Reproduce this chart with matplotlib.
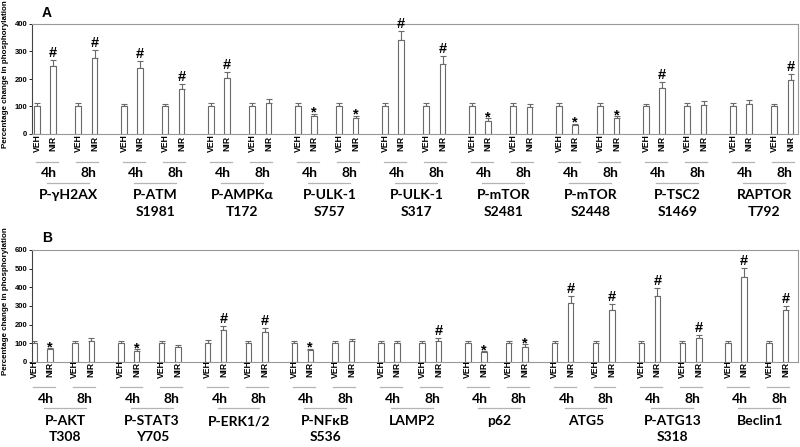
import matplotlib
matplotlib.use('Agg')
import matplotlib.pyplot as plt
import numpy as np
from matplotlib.transforms import blended_transform_factory
from matplotlib.lines import Line2D

# =============================================================================
# Data (percentage change in phosphorylation, VEH4 / NIR4 / VEH8 / NIR8)

names_a = ['P-\u03b3H2AX', 'P-ATM\nS1981', 'P-AMPK\u03b1\nT172', 'P-ULK-1\nS757',
           'P-ULK-1\nS317', 'P-mTOR\nS2481', 'P-mTOR\nS2448', 'P-TSC2\nS1469',
           'RAPTOR\nT792']
veh4_a = [100, 100, 100, 100, 100, 100, 100, 100, 100]
nir4_a = [246, 239, 204, 64, 340, 48, 31, 167, 108]
veh8_a = [100, 100, 100, 100, 100, 100, 100, 100, 100]
nir8_a = [277, 165, 112, 57, 254, 99, 58, 104, 195]
err_veh4_a = [12, 8, 12, 14, 14, 12, 14, 10, 12]
err_nir4_a = [24, 25, 22, 9, 36, 9, 7, 21, 17]
err_veh8_a = [12, 10, 12, 12, 12, 12, 12, 12, 10]
err_nir8_a = [29, 18, 14, 10, 28, 11, 7, 15, 22]
sig4_a = ['#', '#', '#', '*', '#', '*', '*', '#', '']
sig8_a = ['#', '#', '', '*', '#', '', '*', '', '#']

names_b = ['P-AKT\nT308', 'P-STAT3\nY705', 'P-ERK1/2', 'P-NF\u03baB\nS536',
           'LAMP2', 'p62', 'ATG5', 'P-ATG13\nS318', 'Beclin1']
veh4_b = [100, 100, 100, 100, 100, 100, 100, 100, 100]
nir4_b = [67, 58, 170, 63, 102, 52, 315, 353, 456]
veh8_b = [100, 100, 100, 100, 101, 100, 100, 100, 100]
nir8_b = [110, 83, 161, 110, 110, 83, 278, 130, 277]
err_veh4_b = [14, 14, 16, 14, 12, 12, 12, 12, 14]
err_nir4_b = [7, 9, 23, 9, 12, 7, 40, 41, 50]
err_veh8_b = [14, 14, 14, 12, 12, 14, 12, 10, 12]
err_nir8_b = [16, 7, 22, 13, 17, 12, 34, 15, 23]
sig4_b = ['*', '*', '#', '*', '', '*', '#', '#', '#']
sig8_b = ['', '', '#', '', '#', '*', '#', '#', '#']

bar_labels = ['VEH', 'NIR', 'VEH', 'NIR']
time_labels = ['4h', '8h']

# =============================================================================

W, H = 800, 447
GAP = 87
OFFS = np.array([0, 16, 41, 57.5])
EDGE = '#6a6a6a'
LINE = '#b4b4b4'
BOLD = 'Liberation Sans'
NAME_FONT = 'Lato'


def fy(px):
    return 1 - px / H


def panel(fig, rect, xlim, ymax, names, vals, errs, sigs, ys, letter, letter_y):
    ax = fig.add_axes(rect)
    n = len(names)
    base = np.arange(n) * GAP
    for k in range(4):
        ax.bar(base + OFFS[k], vals[k], width=5.5, color='white', edgecolor=EDGE,
               linewidth=0.8, zorder=2)
        ax.errorbar(base + OFFS[k], vals[k], yerr=[np.zeros(n), errs[k]], fmt='none',
                    ecolor=EDGE, elinewidth=0.8, capsize=2, capthick=0.8, zorder=1)
    # significance marks above NIR bars
    for k, sig in ((1, sigs[0]), (3, sigs[1])):
        for i in range(n):
            if not sig[i]:
                continue
            top = vals[k][i] + errs[k][i]
            dy = 3 if sig[i] == '#' else -3
            ax.annotate(sig[i], (base[i] + OFFS[k], top), xytext=(0, dy),
                        textcoords='offset pixels', ha='center', va='baseline',
                        fontsize=10.5, fontweight='bold', family=BOLD)
    ax.set_xlim(*xlim)
    ax.set_ylim(0, ymax)
    ax.set_yticks(np.arange(0, ymax + 1, 100))
    ax.set_xticks([])
    ax.tick_params(axis='y', labelsize=5.5, length=2, width=0.6, pad=1.5)
    for t in ax.get_yticklabels():
        t.set_fontweight('bold')
        t.set_family(BOLD)
    for s in ['top', 'right', 'bottom']:
        ax.spines[s].set_color('#999999')
        ax.spines[s].set_linewidth(0.8)
    ax.spines['left'].set_color('#444444')
    ax.spines['left'].set_linewidth(0.8)

    tr = blended_transform_factory(ax.transData, fig.transFigure)
    y_bar, y_short, y_time, y_long, y_name1, y_name2 = ys
    for i in range(n):
        b = base[i]
        for k in range(4):
            fig.text(b + OFFS[k], fy(y_bar), bar_labels[k], transform=tr, rotation=90,
                     ha='center', va='center', fontsize=6.2, fontweight='bold', family=BOLD)
        for j, (x0, x1, xt) in enumerate(((-1, 21, 12), (39, 61, 51))):
            fig.add_artist(Line2D([b + x0, b + x1], [fy(y_short)] * 2, transform=tr,
                                  color=LINE, lw=0.9))
            fig.text(b + xt, fy(y_time), time_labels[j], transform=tr, ha='center',
                     va='center', fontsize=10, fontweight='bold', family=NAME_FONT)
        fig.add_artist(Line2D([b + 10, b + 52], [fy(y_long)] * 2, transform=tr,
                              color=LINE, lw=0.9))
        lines = names[i].split('\n')
        for line, yy in zip(lines, (y_name1, y_name2)):
            fig.text(b + 31.5, fy(yy), line, transform=tr, ha='center', va='center',
                     fontsize=10, fontweight='bold', family=NAME_FONT)

    fig.text(47 / W, fy(letter_y), letter, ha='center', va='center', fontsize=10,
             fontweight='bold', family=BOLD)
    ycen = rect[1] + rect[3] / 2
    fig.text(6 / W, ycen + 0.01, 'Percentage change in phosphorylation', rotation=90,
             ha='center', va='center', fontsize=5.8, fontweight='bold', family=BOLD)
    return ax


fig = plt.figure(figsize=(W / 100, H / 100), dpi=100)

left = 32 / W
width = (798 - 32) / W

panel(fig, [left, fy(134), width, 110 / H], (-5, 761), 400, names_a,
      [veh4_a, nir4_a, veh8_a, nir8_a],
      [err_veh4_a, err_nir4_a, err_veh8_a, err_nir8_a],
      (sig4_a, sig8_a), (143, 162, 173, 183, 195, 212), 'A', 13)

panel(fig, [left, fy(362), width, 112 / H], (-2, 766), 600, names_b,
      [veh4_b, nir4_b, veh8_b, nir8_b],
      [err_veh4_b, err_nir4_b, err_veh8_b, err_nir8_b],
      (sig4_b, sig8_b), (369, 387, 399, 408, 421, 437), 'B', 238)

fig.savefig('out.png', dpi=100)
